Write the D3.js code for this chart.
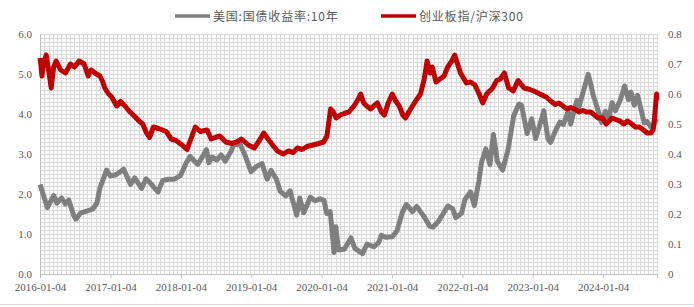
<!DOCTYPE html>
<html>
<head>
<meta charset="utf-8">
<script src="https://cdn.jsdelivr.net/npm/d3@7/dist/d3.min.js"></script>
<style>
  body { margin: 0; background: #fff; }
  text { font-family: "Liberation Serif", "Noto Sans CJK SC", serif; fill: #595959; }
  .legend text { font-family: "Noto Sans CJK SC", sans-serif; letter-spacing: 0.8px; }
</style>
</head>
<body>
<svg id="chart" width="694" height="307"></svg>
<script>
// series names
const seriesNames = ['美国:国债收益率:10年', '创业板指/沪深300'];

// US 10y yield (left axis)
const yieldDates = ['2016-01-04','2016-01-20','2016-02-11','2016-03-01','2016-03-15','2016-04-01','2016-04-25','2016-05-15','2016-06-01','2016-06-27','2016-07-08','2016-08-01','2016-09-01','2016-10-03','2016-10-25','2016-11-10','2016-12-15',
  '2017-01-03','2017-02-01','2017-03-13','2017-04-18','2017-05-10','2017-06-14','2017-07-07','2017-08-01','2017-09-07','2017-10-02','2017-11-01','2017-12-01',
  '2018-01-02','2018-02-01','2018-02-21','2018-03-15','2018-04-02','2018-05-17','2018-05-29','2018-06-15','2018-07-10','2018-08-01','2018-08-22','2018-09-25','2018-10-05','2018-11-08','2018-12-03',
  '2019-01-03','2019-02-01','2019-03-01','2019-03-28','2019-04-17','2019-05-15','2019-06-03','2019-07-03','2019-07-25','2019-08-28','2019-09-13','2019-10-03','2019-11-07','2019-12-02','2019-12-27',
  '2020-01-17','2020-01-31','2020-02-18','2020-03-09','2020-03-18','2020-04-01','2020-05-01','2020-06-05','2020-06-25','2020-08-04','2020-08-27','2020-10-01','2020-10-27','2020-11-10','2020-12-01',
  '2021-01-04','2021-01-29','2021-02-25','2021-03-19','2021-04-20','2021-05-12','2021-06-18','2021-07-19','2021-08-04','2021-09-01','2021-10-21','2021-11-15','2021-12-01','2021-12-31',
  '2022-01-18','2022-02-15','2022-03-07','2022-03-31','2022-04-14','2022-05-06','2022-05-27','2022-06-14','2022-07-05','2022-08-01','2022-08-29','2022-09-27','2022-10-24','2022-11-07','2022-12-06','2022-12-30',
  '2023-01-19','2023-02-22','2023-03-02','2023-03-24','2023-04-06','2023-05-01','2023-05-26','2023-06-12','2023-07-07','2023-07-20','2023-08-21','2023-09-01','2023-09-27','2023-10-19','2023-11-01','2023-11-15','2023-12-01','2023-12-27',
  '2024-01-16','2024-02-01','2024-02-20','2024-03-08','2024-04-01','2024-04-25','2024-05-15','2024-05-28','2024-06-14','2024-07-01','2024-08-05','2024-08-20','2024-09-16','2024-09-30','2024-10-09'];
const yieldValues = [2.24,2.00,1.66,1.83,1.96,1.77,1.90,1.75,1.85,1.46,1.37,1.52,1.57,1.62,1.77,2.15,2.60,
  2.45,2.48,2.62,2.24,2.40,2.14,2.38,2.26,2.05,2.34,2.37,2.37,
  2.46,2.78,2.94,2.82,2.74,3.11,2.78,2.92,2.85,2.98,2.82,3.10,3.23,3.24,2.97,
  2.56,2.69,2.76,2.37,2.59,2.37,2.07,1.95,2.08,1.47,1.90,1.53,1.92,1.83,1.88,
  1.84,1.51,1.56,0.54,1.18,0.60,0.62,0.90,0.64,0.51,0.75,0.68,0.79,0.97,0.92,
  0.93,1.07,1.52,1.74,1.56,1.69,1.44,1.19,1.17,1.31,1.70,1.63,1.41,1.52,
  1.87,2.05,1.71,2.34,2.80,3.13,2.74,3.49,2.81,2.60,3.11,3.95,4.25,4.22,3.51,3.88,
  3.39,3.92,4.08,3.38,3.29,3.57,3.80,3.74,4.06,3.75,4.34,4.18,4.62,4.99,4.75,4.45,4.22,3.79,
  4.07,3.87,4.28,4.08,4.33,4.70,4.36,4.55,4.22,4.47,3.78,3.81,3.62,3.81,3.88];

// ChiNext / CSI300 ratio (right axis)
const ratioDates = ['2016-01-04','2016-01-08','2016-01-14','2016-01-22','2016-02-05','2016-02-20','2016-03-02','2016-03-15','2016-03-28','2016-04-20','2016-05-15','2016-06-10','2016-07-01','2016-07-25','2016-08-20','2016-09-10','2016-09-25','2016-10-15','2016-11-10','2016-11-25','2016-12-05','2016-12-25',
  '2017-01-10','2017-02-05','2017-02-25','2017-03-20','2017-04-15','2017-05-10','2017-06-01','2017-06-20','2017-07-10','2017-07-25','2017-08-15','2017-09-10','2017-10-01','2017-10-20','2017-11-15','2017-12-10',
  '2018-01-10','2018-02-05','2018-02-25','2018-03-20','2018-04-15','2018-05-20','2018-06-10','2018-07-01','2018-07-25','2018-08-25','2018-09-25','2018-10-20','2018-11-15','2018-12-20',
  '2019-01-20','2019-02-20','2019-03-10','2019-04-01','2019-04-25','2019-05-20','2019-06-20','2019-07-15','2019-08-10','2019-09-01','2019-09-25','2019-10-20','2019-11-20','2019-12-20',
  '2020-01-15','2020-02-01','2020-02-20','2020-03-05','2020-03-20','2020-04-10','2020-05-01','2020-05-25','2020-06-20','2020-07-10','2020-07-25','2020-08-10','2020-08-25','2020-09-15','2020-10-01','2020-10-20','2020-11-10','2020-11-25','2020-12-15',
  '2021-01-05','2021-01-20','2021-02-10','2021-03-01','2021-03-15','2021-04-01','2021-04-20','2021-05-10','2021-06-01','2021-06-20','2021-07-05','2021-07-20','2021-08-01','2021-08-20','2021-09-10','2021-10-01','2021-10-20','2021-11-10','2021-11-25','2021-12-10','2021-12-25',
  '2022-01-25','2022-02-15','2022-03-10','2022-04-01','2022-04-20','2022-05-10','2022-06-10','2022-07-01','2022-07-20','2022-08-10','2022-09-01','2022-09-25','2022-10-20','2022-11-20','2022-12-20',
  '2023-01-10','2023-02-10','2023-03-15','2023-04-10','2023-05-01','2023-05-20','2023-06-10','2023-07-01','2023-07-20','2023-08-10','2023-09-01','2023-09-20','2023-10-10','2023-11-01','2023-11-20','2023-12-10',
  '2024-01-01','2024-01-20','2024-02-05','2024-02-20','2024-03-10','2024-04-01','2024-04-20','2024-05-10','2024-06-01','2024-06-20','2024-07-10','2024-08-01','2024-08-20','2024-09-10','2024-09-20','2024-09-27','2024-10-08','2024-10-09'];
const ratioValues = [0.72,0.70,0.66,0.70,0.73,0.67,0.62,0.69,0.71,0.68,0.67,0.70,0.69,0.71,0.70,0.66,0.68,0.67,0.66,0.64,0.62,0.60,
  0.59,0.56,0.575,0.56,0.54,0.525,0.51,0.50,0.47,0.455,0.49,0.485,0.48,0.475,0.45,0.445,
  0.43,0.415,0.45,0.49,0.475,0.48,0.45,0.455,0.46,0.44,0.435,0.44,0.45,0.43,
  0.42,0.45,0.47,0.45,0.43,0.41,0.40,0.41,0.405,0.42,0.415,0.425,0.43,0.435,
  0.44,0.46,0.55,0.54,0.52,0.53,0.535,0.54,0.56,0.58,0.60,0.57,0.56,0.55,0.56,0.57,0.54,0.53,0.57,
  0.60,0.58,0.56,0.53,0.52,0.54,0.56,0.58,0.60,0.65,0.71,0.67,0.69,0.64,0.65,0.66,0.69,0.71,0.73,0.70,0.67,
  0.637,0.64,0.63,0.60,0.57,0.60,0.62,0.645,0.65,0.67,0.62,0.61,0.645,0.62,0.615,
  0.61,0.60,0.59,0.575,0.565,0.57,0.56,0.55,0.555,0.55,0.54,0.545,0.54,0.54,0.53,0.52,
  0.52,0.50,0.51,0.52,0.515,0.51,0.50,0.51,0.50,0.49,0.49,0.48,0.47,0.47,0.48,0.52,0.60,0.58];

const yearTicks = ['2016-01-04','2017-01-04','2018-01-04','2019-01-04','2020-01-04','2021-01-04','2022-01-04','2023-01-04','2024-01-04'];
const leftTicks = [0, 1, 2, 3, 4, 5, 6];
const rightTicks = [0, 0.1, 0.2, 0.3, 0.4, 0.5, 0.6, 0.7, 0.8];

const parse = d3.timeParse('%Y-%m-%d');
const margin = { top: 34, left: 40, right: 37, bottom: 33 };
const W = 694, H = 307;
const width = W - margin.left - margin.right;
const height = H - margin.top - margin.bottom;

const svg = d3.select('#chart');
const g = svg.append('g').attr('transform', `translate(${margin.left},${margin.top})`);

const x = d3.scaleTime()
  .domain([parse('2016-01-04'), parse('2024-10-10')])
  .range([0, width]);
const yL = d3.scaleLinear().domain([0, 6]).range([height, 0]);
const yR = d3.scaleLinear().domain([0, 0.8]).range([height, 0]);

// dense background grid
const grid = g.append('g').attr('class', 'grid');
grid.selectAll('line.h')
  .data(d3.range(0, 61).map(i => i / 10))
  .join('line')
  .attr('x1', 0).attr('x2', width)
  .attr('y1', d => Math.round(yL(d)) + 0.5).attr('y2', d => Math.round(yL(d)) + 0.5)
  .attr('stroke', '#d9d9d9').attr('stroke-width', 1);
const nCols = 144;
grid.selectAll('line.v')
  .data(d3.range(0, nCols + 1))
  .join('line')
  .attr('x1', d => Math.round(d * width / nCols) + 0.5).attr('x2', d => Math.round(d * width / nCols) + 0.5)
  .attr('y1', 0).attr('y2', height)
  .attr('stroke', '#d9d9d9').attr('stroke-width', 1);

// axes
g.append('line')
  .attr('x1', 0.5).attr('x2', 0.5).attr('y1', 0).attr('y2', height)
  .attr('stroke', '#bfbfbf');
const xAxis = g.append('g')
  .attr('transform', `translate(0,${height})`)
  .call(d3.axisBottom(x)
    .tickValues(yearTicks.map(parse))
    .tickFormat(d3.timeFormat('%Y-%m-%d'))
    .tickSize(4)
    .tickPadding(5));
xAxis.select('.domain').attr('stroke', '#bfbfbf');
xAxis.selectAll('.tick line').attr('stroke', '#bfbfbf');
xAxis.selectAll('text').attr('font-size', 11).attr('fill', '#595959');

const leftAxis = g.append('g')
  .call(d3.axisLeft(yL).tickValues(leftTicks).tickFormat(d3.format('.1f')).tickSize(0).tickPadding(8));
leftAxis.select('.domain').remove();
leftAxis.selectAll('text').attr('font-size', 11).attr('fill', '#595959');

const rightAxis = g.append('g')
  .attr('transform', `translate(${width},0)`)
  .call(d3.axisRight(yR).tickValues(rightTicks).tickFormat(d => d === 0 ? '0' : d3.format('.1f')(d)).tickSize(0).tickPadding(11));
rightAxis.select('.domain').remove();
rightAxis.selectAll('text').attr('font-size', 11).attr('fill', '#595959');

// lines
const yieldData = yieldDates.map((d, i) => ({ date: parse(d), value: yieldValues[i] }));
const ratioData = ratioDates.map((d, i) => ({ date: parse(d), value: ratioValues[i] }));

g.append('path')
  .datum(yieldData)
  .attr('fill', 'none')
  .attr('stroke', '#7f7f7f')
  .attr('stroke-width', 5)
  .attr('stroke-linejoin', 'round')
  .attr('d', d3.line().x(d => x(d.date)).y(d => yL(d.value)));

g.append('path')
  .datum(ratioData)
  .attr('fill', 'none')
  .attr('stroke', '#c00000')
  .attr('stroke-width', 5)
  .attr('stroke-linejoin', 'round')
  .attr('d', d3.line().x(d => x(d.date)).y(d => yR(d.value)));

// legend
const legendColors = ['#7f7f7f', '#c00000'];
const legendX = [175, 381];
const legend = svg.append('g').attr('class', 'legend');
const items = legend.selectAll('g')
  .data(seriesNames)
  .join('g')
  .attr('transform', (d, i) => `translate(${legendX[i]},16)`);
items.append('line')
  .attr('x1', 0).attr('x2', 35).attr('y1', 0).attr('y2', 0)
  .attr('stroke', (d, i) => legendColors[i]).attr('stroke-width', 3.5);
items.append('text')
  .attr('x', 38).attr('y', 4.5)
  .attr('font-size', 12)
  .text(d => d);

// bottom frame line
svg.append('line')
  .attr('x1', 0).attr('x2', W).attr('y1', 304.5).attr('y2', 304.5)
  .attr('stroke', '#d9d9d9');
</script>
</body>
</html>
